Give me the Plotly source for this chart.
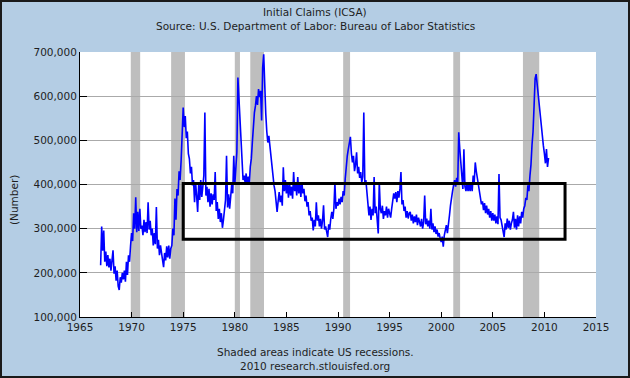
import plotly.graph_objects as go

# Weekly initial claims (thousands), sampled every 0.1 year from 1967.0
start_year = 1967.0
step = 0.1
claims_k = [
    217, 305, 250, 296, 225, 248, 215, 240, 212, 232,   # 1967
    205, 222, 251, 198, 215, 182, 205, 170, 161, 190,   # 1968
    178, 200, 185, 205, 180, 225, 195, 240, 225, 262,   # 1969
    290, 272, 335, 300, 371, 292, 338, 295, 345, 300,   # 1970
    307, 285, 320, 292, 315, 290, 360, 298, 318, 285,   # 1971
    300, 262, 290, 265, 349, 255, 275, 240, 262, 245,   # 1972
    230, 213, 245, 228, 260, 235, 262, 232, 255, 262,   # 1973
    300, 285, 368, 320, 390, 375, 430, 410, 455, 525,   # 1974
    574, 530, 555, 505, 520, 470, 458, 425, 440, 398,   # 1975
    410, 360, 405, 375, 338, 400, 365, 410, 372, 395,   # 1976
    420, 563, 375, 395, 360, 390, 350, 380, 355, 378,   # 1977
    365, 428, 340, 360, 322, 345, 315, 335, 302, 320,   # 1978
    345, 365, 465, 348, 378, 345, 372, 400, 380, 465,   # 1979
    400, 445, 473, 642, 590, 563, 488, 435, 410, 420,   # 1980
    405, 425, 400, 418, 400, 440, 458, 495, 540, 563,   # 1981
    578, 600, 580, 616, 598, 612, 545, 665, 695, 610,   # 1982
    560, 520, 495, 510, 488, 470, 435, 420, 398, 385,   # 1983
    355, 338, 362, 383, 360, 375, 352, 439, 385, 410,   # 1984
    380, 402, 370, 405, 375, 395, 368, 428, 385, 405,   # 1985
    375, 417, 380, 402, 372, 405, 380, 390, 362, 375,   # 1986
    350, 360, 330, 340, 318, 325, 296, 320, 305, 360,   # 1987
    318, 330, 305, 322, 300, 318, 353, 298, 305, 288,   # 1988
    281, 310, 298, 323, 338, 322, 345, 405, 345, 360,   # 1989
    352, 368, 355, 372, 360, 385, 375, 413, 450, 465,   # 1990
    480, 495, 508, 470, 450, 465, 430, 445, 473, 425,   # 1991
    440, 415, 428, 405, 418, 563, 400, 410, 375, 360,   # 1992
    330, 350, 320, 345, 330, 417, 335, 350, 315, 289,   # 1993
    405, 345, 335, 352, 322, 340, 330, 350, 325, 345,   # 1994
    335, 325, 345, 360, 380, 368, 383, 360, 385, 370,   # 1995
    390, 428, 355, 365, 340, 350, 325, 340, 323, 335,   # 1996
    338, 318, 332, 312, 328, 315, 332, 308, 325, 315,   # 1997
    305, 322, 300, 315, 375, 310, 323, 305, 318, 300,   # 1998
    345, 298, 312, 292, 305, 288, 298, 282, 290, 278,   # 1999
    270, 282, 259, 285, 298, 308, 290, 305, 330, 353,   # 2000
    365, 385, 398, 410, 395, 415, 400, 518, 480, 450,   # 2001
    413, 390, 480, 395, 385, 405, 385, 400, 385, 405,   # 2002
    385, 420, 405, 450, 430, 415, 398, 380, 368, 355,   # 2003
    362, 342, 358, 335, 352, 332, 345, 325, 340, 318,   # 2004
    335, 318, 332, 312, 328, 310, 424, 325, 320, 305,   # 2005
    298, 281, 312, 298, 323, 302, 318, 298, 312, 320,   # 2006
    338, 302, 322, 298, 330, 305, 328, 312, 338, 325,   # 2007
    345, 352, 370, 365, 398, 385, 420, 445, 490, 520,   # 2008
    578, 640, 650, 625, 600, 575, 560, 525, 510, 488,   # 2009
    470, 448, 480, 440, 460,                            # 2010
]

rec_start = [1969.92, 1973.83, 1980.0, 1981.5, 1990.5, 2001.17, 2007.92]
rec_end = [1970.83, 1975.17, 1980.5, 1982.83, 1991.17, 2001.83, 2009.5]

box_x = [1975.0, 2012.0]
box_y = [276000, 402000]

x_ticks = list(range(1965, 2016, 5))
y_ticks = list(range(100000, 700001, 100000))

title = "Initial Claims (ICSA)"
subtitle = "Source: U.S. Department of Labor: Bureau of Labor Statistics"
note1 = "Shaded areas indicate US recessions."
note2 = "2010 research.stlouisfed.org"
ytitle = "(Number)"

years = [start_year + i * step for i in range(len(claims_k))]
claims = [v * 1000 for v in claims_k]

W, H = 630, 378
L, R, T, B = 80, 34, 52, 61
PW, PH = W - L - R, H - T - B


def px_x(p):
    return (p - L) / PW


def px_y(p):
    return 1 - (p - T) / PH


FONT = "DejaVu Sans"
TXT = "#1e1e1e"

fig = go.Figure()
fig.add_trace(go.Scatter(x=years, y=claims, mode="lines",
                         line=dict(color="#0000FF", width=1.6),
                         hoverinfo="skip", showlegend=False))

shapes = []
for s, e in zip(rec_start, rec_end):
    shapes.append(dict(type="rect", xref="x", yref="paper", x0=s, x1=e, y0=0, y1=1,
                       fillcolor="#BEBEBE", line=dict(width=0), layer="between"))
shapes.append(dict(type="rect", xref="x", yref="y", x0=box_x[0], x1=box_x[1],
                   y0=box_y[0], y1=box_y[1], line=dict(color="black", width=3),
                   fillcolor="rgba(0,0,0,0)", layer="above"))
# outer frame
shapes.append(dict(type="rect", xref="paper", yref="paper",
                   x0=px_x(1), x1=px_x(W - 1), y0=px_y(H - 1), y1=px_y(1),
                   line=dict(color="#1a1a1a", width=2), fillcolor="rgba(0,0,0,0)",
                   layer="above"))

ann = [
    dict(text=title, x=px_x(315), y=px_y(12)),
    dict(text=subtitle, x=px_x(315), y=px_y(26)),
    dict(text=note1, x=px_x(315), y=px_y(352)),
    dict(text=note2, x=px_x(315), y=px_y(366)),
    dict(text=ytitle, x=px_x(14), y=px_y(200), textangle=-90),
]
annotations = []
for a in ann:
    a.update(xref="paper", yref="paper", showarrow=False, xanchor="center",
             yanchor="middle", font=dict(family=FONT, size=10.5, color=TXT))
    annotations.append(a)

fig.update_layout(
    width=W, height=H,
    margin=dict(l=L, r=R, t=T, b=B, pad=0),
    paper_bgcolor="#B4CDE4",
    plot_bgcolor="white",
    shapes=shapes,
    annotations=annotations,
    font=dict(family=FONT, size=10.5, color=TXT),
    xaxis=dict(range=[1965, 2015], tickvals=x_ticks, ticktext=[str(t) for t in x_ticks],
               showgrid=False, zeroline=False, showline=True, linecolor="black",
               linewidth=1, ticks="inside", ticklen=5, tickcolor="black"),
    yaxis=dict(range=[100000, 700000], tickvals=y_ticks,
               ticktext=[f"{t:,}" for t in y_ticks],
               showgrid=True, gridcolor="#AAAAAA", gridwidth=1, zeroline=False,
               showline=True, linecolor="black", linewidth=1,
               ticks="inside", ticklen=7, tickcolor="black"),
)

fig.write_html("out.html", config={"displayModeBar": False},
               post_script="document.body.style.margin='0';document.body.style.overflow='hidden';")
